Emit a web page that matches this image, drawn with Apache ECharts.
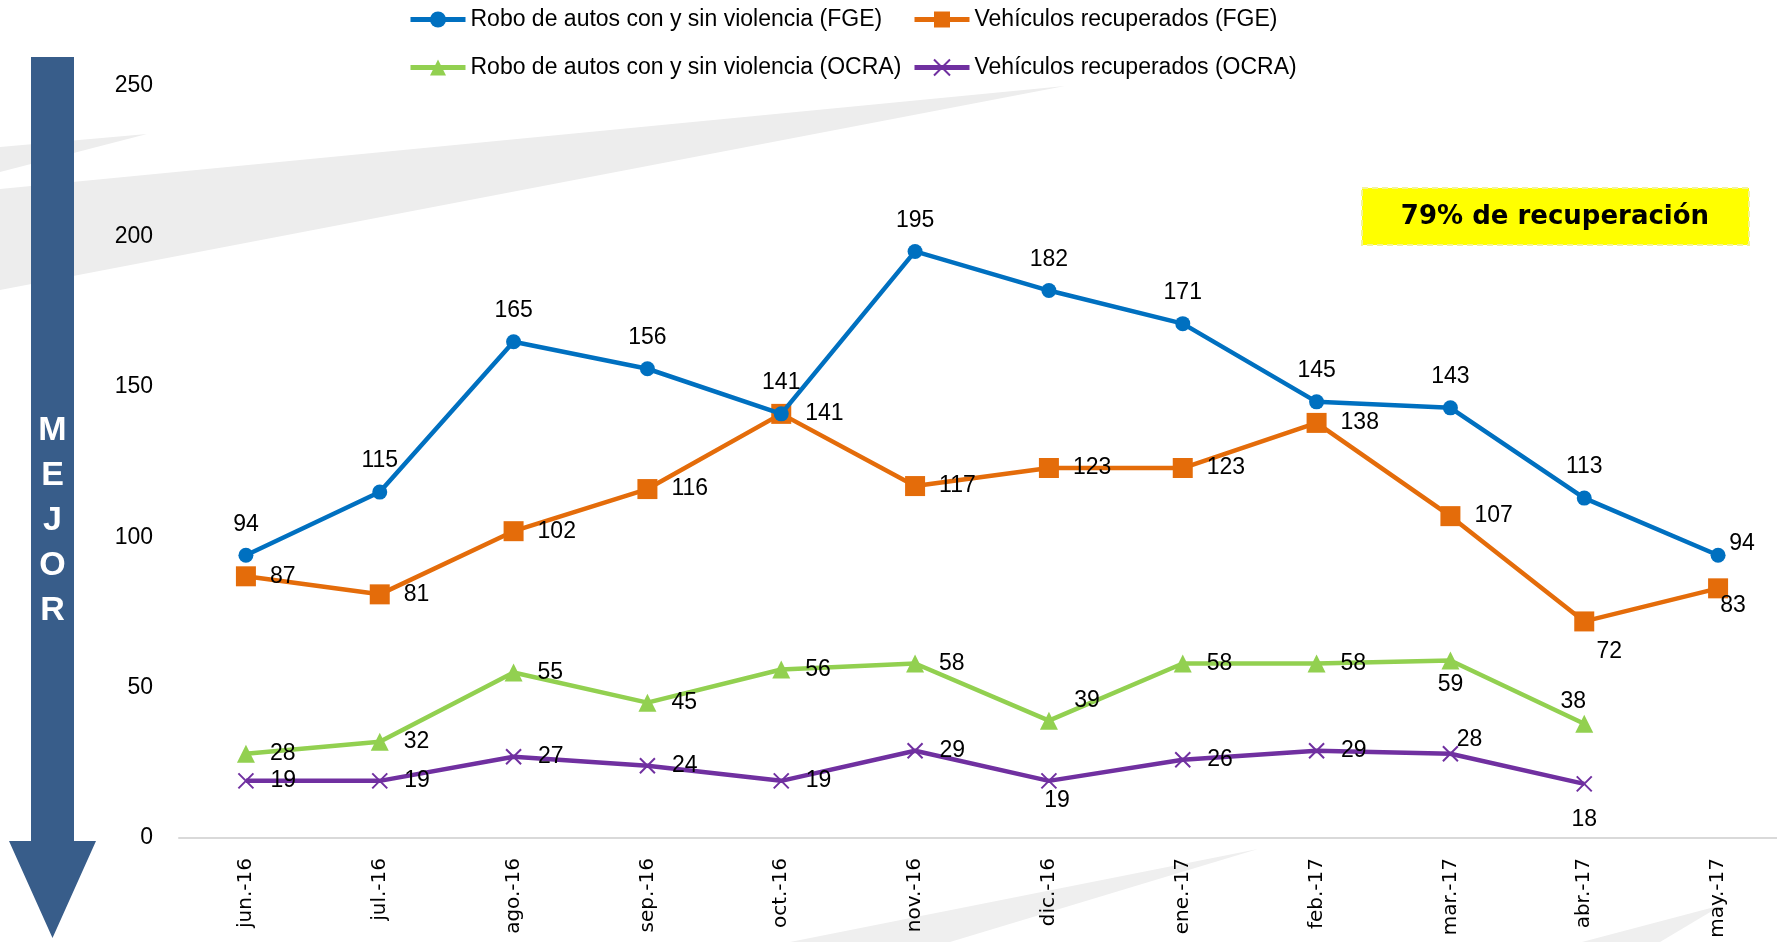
<!DOCTYPE html>
<html>
<head>
<meta charset="utf-8">
<script src="https://cdn.jsdelivr.net/npm/echarts@6.0.0/dist/echarts.min.js"></script>
<style>
  html, body { margin: 0; padding: 0; background: #fff; }
  #main { width: 1777px; height: 942px; }
</style>
</head>
<body>
<div id="main"></div>
<script>
// months
var months = ['jun.-16', 'jul.-16', 'ago.-16', 'sep.-16', 'oct.-16', 'nov.-16',
  'dic.-16', 'ene.-17', 'feb.-17', 'mar.-17', 'abr.-17', 'may.-17'];

var seriesNames = [
  'Robo de autos con y sin violencia (FGE)',
  'Vehículos recuperados (FGE)',
  'Robo de autos con y sin violencia (OCRA)',
  'Vehículos recuperados (OCRA)'
];

var roboFGE = [94, 115, 165, 156, 141, 195, 182, 171, 145, 143, 113, 94];
var recupFGE = [87, 81, 102, 116, 141, 117, 123, 123, 138, 107, 72, 83];
var roboOCRA = [28, 32, 55, 45, 56, 58, 39, 58, 58, 59, 38, '-'];
var recupOCRA = [19, 19, 27, 24, 19, 29, 19, 26, 29, 28, 18, '-'];

var yTicks = { min: 0, max: 250, step: 50 };
var noteText = '79% de recuperación';
var arrowText = 'MEJOR';

// labels that don't sit in the usual spot (index -> [dx, dy] from the marker)
var labelMoves = [
  { 11: [24, -12] },
  { 10: [25, 30], 11: [15, 17] },
  { 6: [38, -20], 9: [0, 24], 10: [-11, -22] },
  { 6: [8, 20], 9: [19, -14], 10: [0, 36] }
];

var colors = ['#0070C0', '#E46C0A', '#92D050', '#7030A0'];
var txtFont = "'Liberation Sans', Arial, sans-serif";

function buildData(vals, moves) {
  return vals.map(function (v, i) {
    if (moves[i]) {
      return { value: v, label: { position: 'inside', offset: moves[i], distance: 0 } };
    }
    return v;
  });
}

var myChart = echarts.init(document.getElementById('main'));

var crossPath = 'path://M0,0L10,10M10,0L0,10';

var baseLabel = {
  show: true,
  color: '#000',
  fontFamily: txtFont,
  fontSize: 23,
  textBorderWidth: 0
};

var option = {
  animation: false,
  backgroundColor: '#fff',
  color: colors,
  graphic: [
    // grey streaks in the background
    { type: 'polygon', z: -10, shape: { points: [[0, 147], [147, 134], [0, 172]] }, style: { fill: '#ededed' } },
    { type: 'polygon', z: -10, shape: { points: [[0, 189], [1065, 86], [0, 290]] }, style: { fill: '#ededed' } },
    { type: 'polygon', z: -10, shape: { points: [[790, 942], [1258, 849], [950, 942]] }, style: { fill: '#efefef' } },
    { type: 'polygon', z: -10, shape: { points: [[1582, 942], [1722, 905], [1660, 942]] }, style: { fill: '#efefef' } },
    // arrow
    {
      type: 'polygon', z: 5,
      shape: { points: [[31, 57], [74, 57], [74, 841], [96, 841], [52.5, 938], [9, 841], [31, 841]] },
      style: { fill: '#385D8A' }
    },
    {
      type: 'text', z: 6, x: 52.5, y: 521,
      style: {
        text: arrowText.split('').join('\n'),
        fill: '#fff', font: 'bold 34px ' + txtFont,
        align: 'center', verticalAlign: 'middle', lineHeight: 45
      }
    },
    // yellow note
    {
      type: 'rect', z: 5,
      shape: { x: 1362, y: 188, width: 387, height: 57 },
      style: { fill: '#FFFF00', stroke: '#f3f39a', lineWidth: 2, lineDash: [6, 4] }
    },
    {
      type: 'text', z: 6, x: 1555, y: 217,
      style: {
        text: noteText, fill: '#000', font: "bold 26px 'DejaVu Sans', sans-serif",
        align: 'center', verticalAlign: 'middle'
      }
    }
  ],
  legend: [
    { data: [seriesNames[0]], left: 408, top: 8 },
    { data: [seriesNames[1]], left: 912, top: 8 },
    { data: [seriesNames[2]], left: 408, top: 56 },
    { data: [seriesNames[3]], left: 912, top: 56 }
  ].map(function (l) {
    l.itemWidth = 55;
    l.itemHeight = 20;
    l.itemGap = 0;
    l.padding = 0;
    l.lineStyle = { width: 5 };
    l.textStyle = { color: '#000', fontFamily: txtFont, fontSize: 23 };
    return l;
  }),
  grid: { left: 179, right: -8, top: 86, bottom: 104, containLabel: false, outerBoundsMode: 'none' },
  xAxis: {
    type: 'category',
    data: months,
    boundaryGap: true,
    axisLine: { lineStyle: { color: '#d9d9d9', width: 2 } },
    axisTick: { show: false },
    axisLabel: {
      rotate: 90, margin: 20, color: '#000',
      fontFamily: "'DejaVu Sans', Verdana, sans-serif", fontSize: 20
    },
    splitLine: { show: false }
  },
  yAxis: {
    type: 'value',
    min: yTicks.min, max: yTicks.max, interval: yTicks.step,
    axisLine: { show: false },
    axisTick: { show: false },
    splitLine: { show: false },
    axisLabel: { color: '#000', fontFamily: txtFont, fontSize: 23, margin: 26 }
  },
  series: [
    {
      name: seriesNames[0], type: 'line',
      data: buildData(roboFGE, labelMoves[0]),
      symbol: 'circle', symbolSize: 15,
      lineStyle: { width: 4.5, color: colors[0] },
      itemStyle: { color: colors[0] },
      label: Object.assign({}, baseLabel, { position: 'top', distance: 12 }),
      z: 5
    },
    {
      name: seriesNames[1], type: 'line',
      data: buildData(recupFGE, labelMoves[1]),
      symbol: 'rect', symbolSize: 20,
      lineStyle: { width: 4.5, color: colors[1] },
      itemStyle: { color: colors[1] },
      label: Object.assign({}, baseLabel, { position: 'right', distance: 14 }),
      z: 4
    },
    {
      name: seriesNames[2], type: 'line',
      data: buildData(roboOCRA, labelMoves[2]),
      symbol: 'triangle', symbolSize: 18,
      lineStyle: { width: 4.5, color: colors[2] },
      itemStyle: { color: colors[2] },
      label: Object.assign({}, baseLabel, { position: 'right', distance: 15 }),
      z: 3
    },
    {
      name: seriesNames[3], type: 'line',
      data: buildData(recupOCRA, labelMoves[3]),
      symbol: crossPath, symbolSize: 15,
      lineStyle: { width: 4.5, color: colors[3] },
      itemStyle: { color: colors[3], borderColor: colors[3], borderWidth: 2 },
      label: Object.assign({}, baseLabel, { position: 'right', distance: 16 }),
      z: 3
    }
  ]
};

myChart.setOption(option);
</script>
</body>
</html>
